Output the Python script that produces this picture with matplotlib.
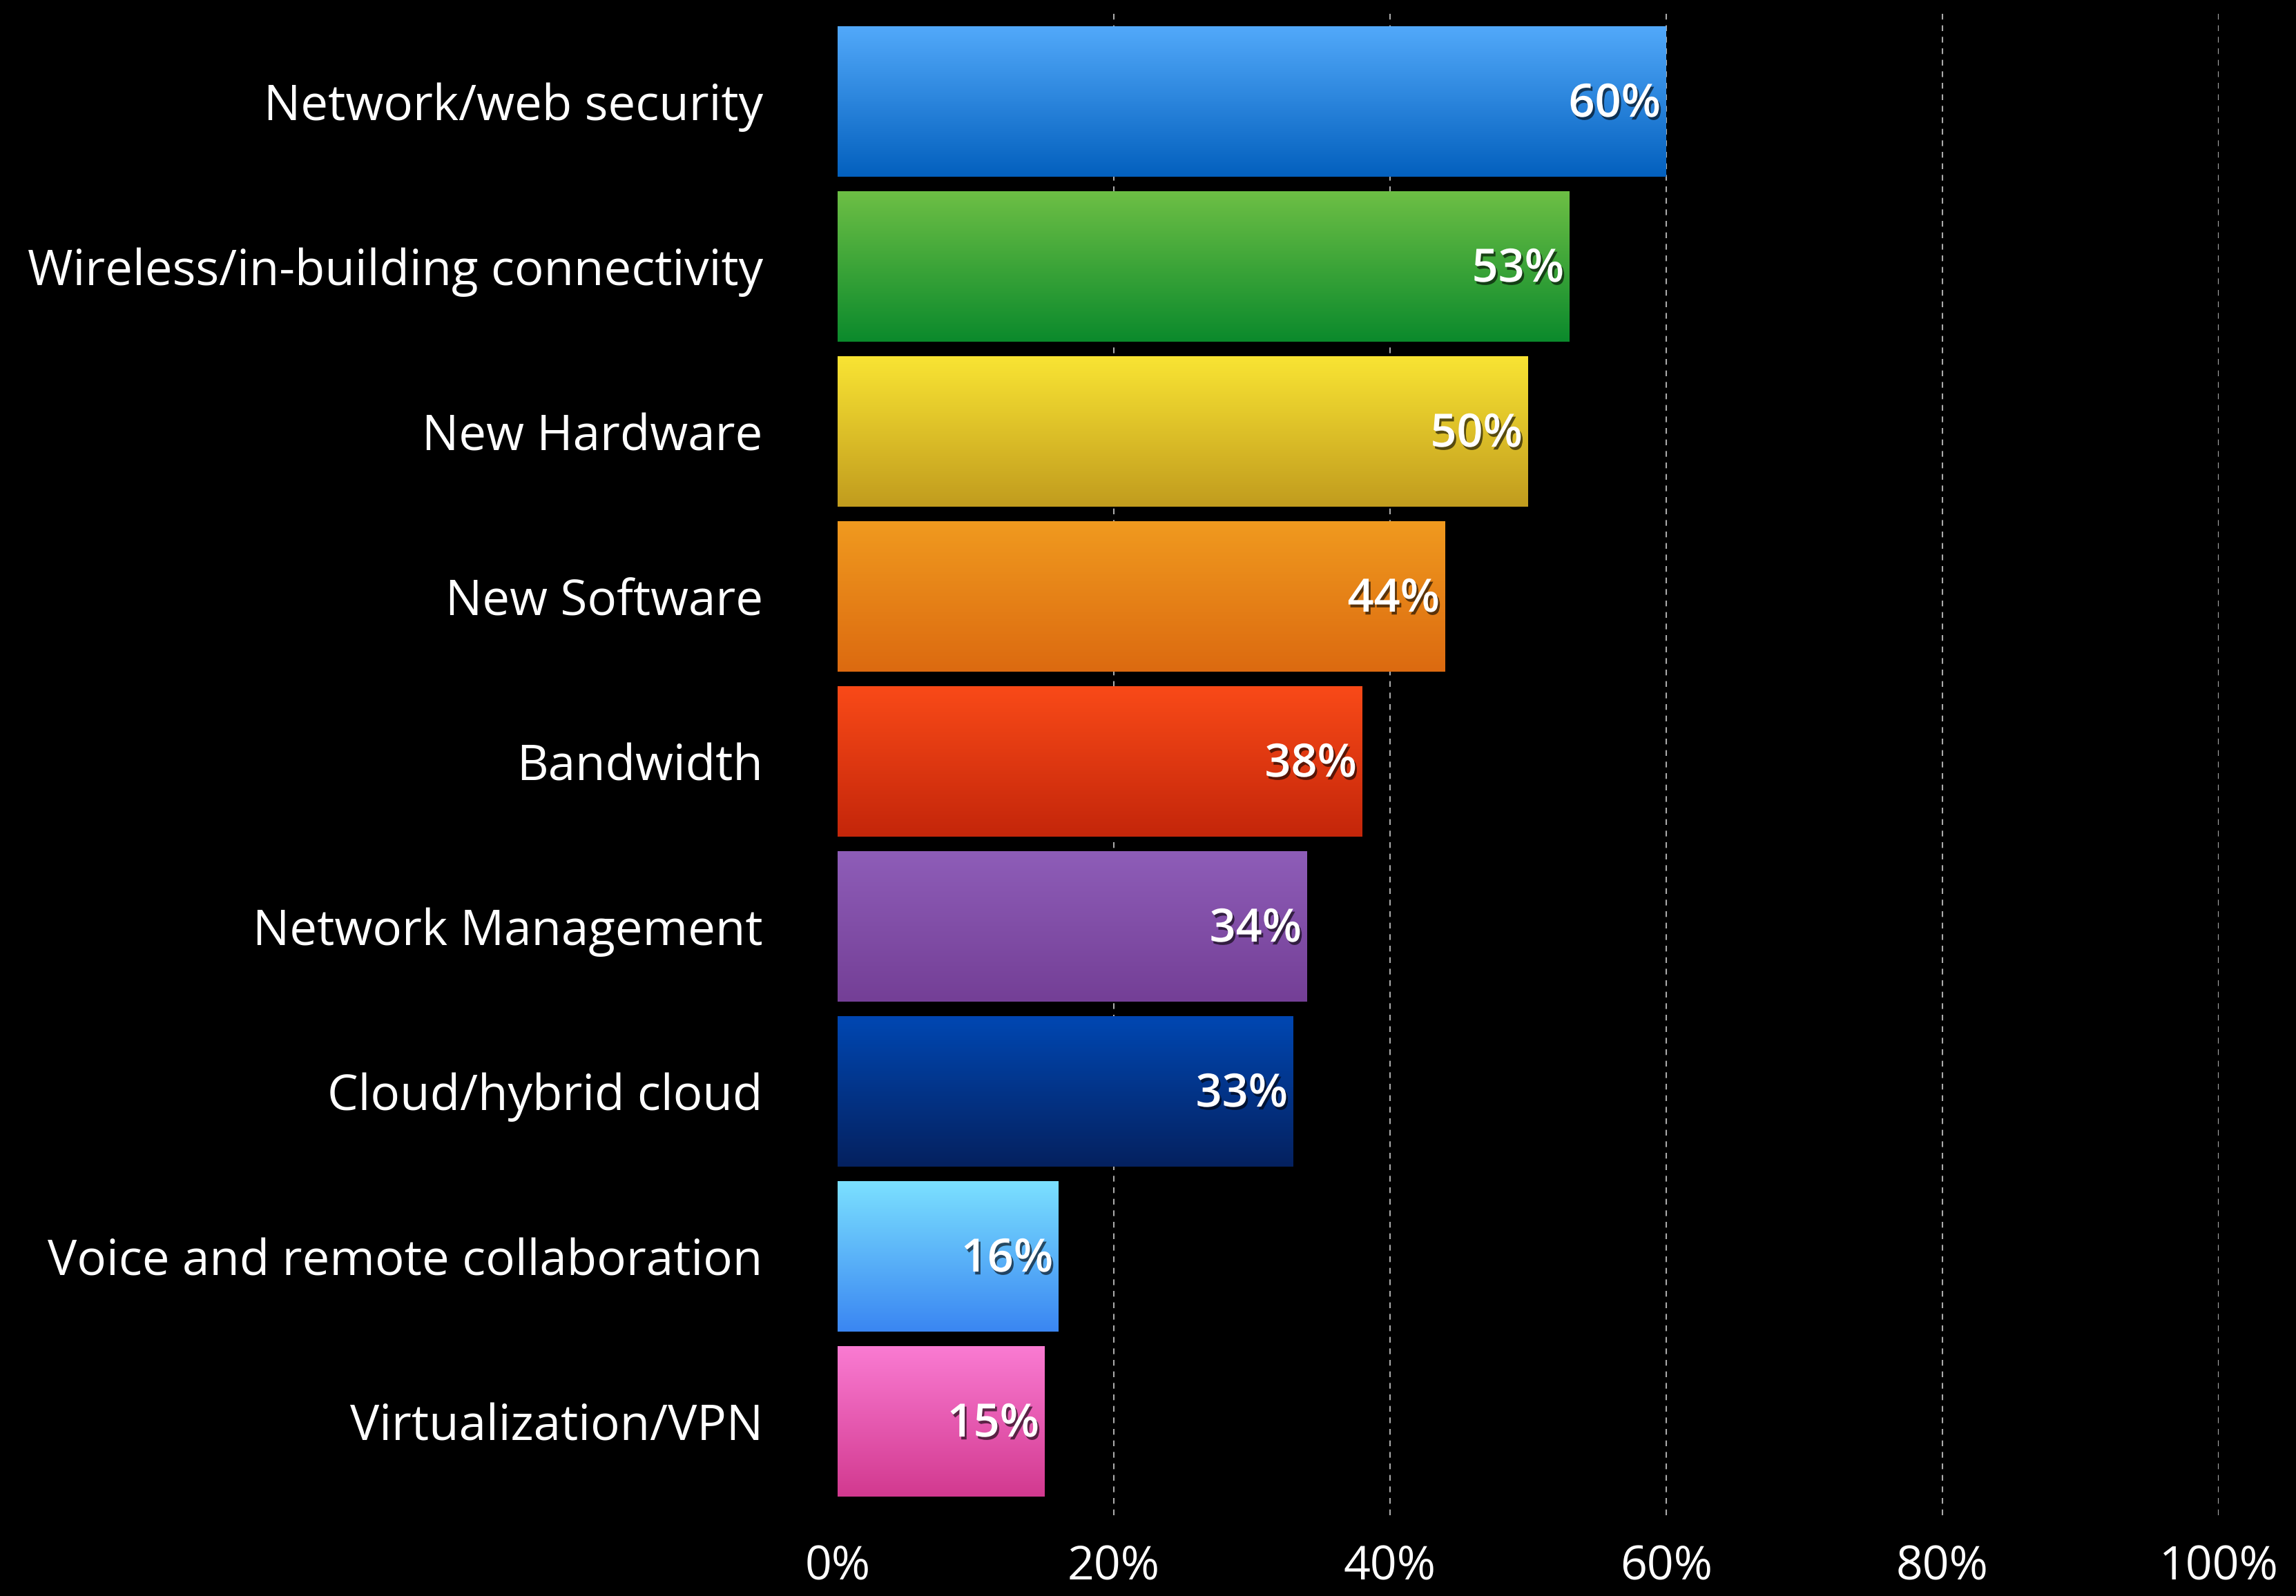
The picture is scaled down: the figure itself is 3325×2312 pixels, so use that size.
import numpy as np
import matplotlib
matplotlib.use("Agg")
from matplotlib import pyplot as plt
from matplotlib.colors import LinearSegmentedColormap
import matplotlib.patheffects as pe

categories = [
    "Network/web security",
    "Wireless/in-building connectivity",
    "New Hardware",
    "New Software",
    "Bandwidth",
    "Network Management",
    "Cloud/hybrid cloud",
    "Voice and remote collaboration",
    "Virtualization/VPN",
]
values = [60, 53, 50, 44, 38, 34, 33, 16, 15]
x_ticks = [0, 20, 40, 60, 80, 100]
x_tick_labels = ["0%", "20%", "40%", "60%", "80%", "100%"]

# (top, bottom) colours of each bar's gradient
gradients = [
    ("#52a9fa", "#0360be"),
    ("#6dbf45", "#0b8a2c"),
    ("#f9e433", "#c19c1e"),
    ("#f09a1f", "#dc6a10"),
    ("#f94a18", "#c4260a"),
    ("#8e5db8", "#743f96"),
    ("#0047b2", "#05215f"),
    ("#7be0ff", "#3a86f2"),
    ("#fa7bd2", "#d2398f"),
]

plt.rcParams["font.family"] = ["Open Sans", "DejaVu Sans"]

fig = plt.figure(figsize=(33.25, 23.12), dpi=100, facecolor="black")
ax = fig.add_axes([0.3648, 0.0506, 0.6015, 0.9438])
ax.set_facecolor("black")

ypos = np.arange(len(categories))
bars = ax.barh(ypos, values, height=0.91, color="none", zorder=3)

grad = np.linspace(0, 1, 256).reshape(-1, 1)
for bar, (top, bottom) in zip(bars, gradients):
    cmap = LinearSegmentedColormap.from_list("g", [top, bottom])
    x0, y0 = bar.get_x(), bar.get_y()
    w, h = bar.get_width(), bar.get_height()
    ax.imshow(grad, cmap=cmap, aspect="auto", extent=[x0, x0 + w, y0 + h, y0],
              zorder=3, interpolation="bicubic")

for v, y in zip(values, ypos):
    ax.text(v - 0.4, y + 0.02, f"{v}%", ha="right", va="center", color="white",
            fontsize=48, fontweight="semibold", zorder=5,
            path_effects=[pe.withSimplePatchShadow(offset=(2, -3), shadow_rgbFace="black", alpha=0.6)])

for t in x_ticks[1:]:
    ax.axvline(t, color="#aaaaaa", linestyle=(0, (4, 4)), linewidth=1.5, zorder=1)

ax.set_xlim(0, 100)
ax.set_ylim(8.57, -0.56)
ax.set_xticks(x_ticks)
ax.set_xticklabels(x_tick_labels, color="white", fontsize=49)
ax.set_yticks(ypos)
ax.set_yticklabels(categories, color="white", fontsize=51)
ax.tick_params(axis="x", length=0, pad=30)
ax.tick_params(axis="y", length=0, pad=78)
for s in ax.spines.values():
    s.set_visible(False)

fig.savefig("out.png", dpi=100, facecolor="black")
